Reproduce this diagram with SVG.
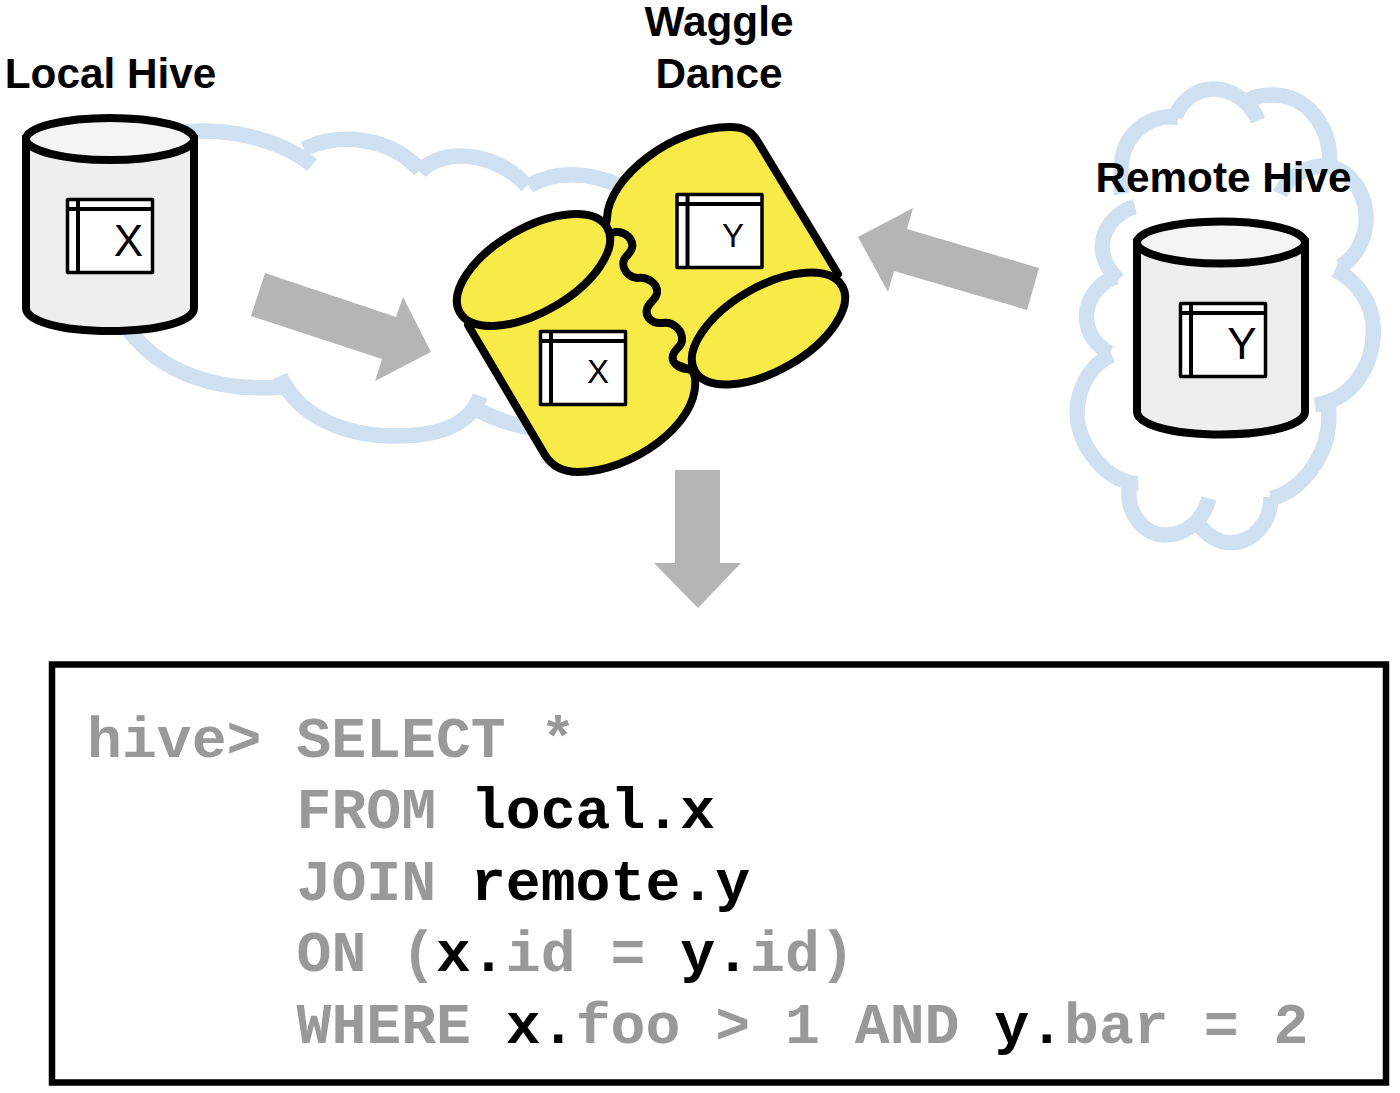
<svg xmlns="http://www.w3.org/2000/svg" width="1400" height="1093" viewBox="0 0 1400 1093">
<style>
.cloud{fill:none;stroke:#cfe0f0;stroke-width:15.500}
.rc{fill:none;stroke:#cfe0f0;stroke-width:46}
.arrow{fill:#b5b5b5}
.cyl{fill:#eeeeee;stroke:#000;stroke-width:8}
.cyltop{fill:#f4f4f4;stroke:#000;stroke-width:8}
.y{fill:#f9eb47;stroke:#000;stroke-width:8;stroke-linejoin:round}
.tb{fill:#fff;stroke:#000;stroke-width:3.500;stroke-linejoin:round}
.tl{stroke:#000;stroke-width:4}
.title{font-family:"Liberation Sans",Arial,sans-serif;font-weight:700;font-size:42.300px;fill:#000;text-anchor:middle}
.big{font-family:"Liberation Sans",Arial,sans-serif;font-size:44px;fill:#000;text-anchor:middle}
.small{font-family:"Liberation Sans",Arial,sans-serif;font-size:33px;fill:#000;text-anchor:middle}
.code{font-family:"Liberation Mono","Courier New",monospace;font-weight:700;font-size:58.150px;fill:#999;white-space:pre}
.k{fill:#000}
</style>
<defs>
<g id="table">
<rect class="tb" x="1.500" y="1.500" width="85" height="73"/>
<line class="tl" x1="12" y1="1.500" x2="12" y2="74.500"/>
<line class="tl" x1="1.500" y1="11" x2="86.500" y2="11"/>
</g>
<g id="cylinder">
<path class="cyl" d="M26,139V308C26,321 60,331 110,331C160,331 194,321 194,308V139Z"/>
<ellipse class="cyltop" cx="110" cy="139" rx="84" ry="21"/>
</g>
</defs>
<g id="local-cloud">
<path class="cloud" d="M185,132C235,127 285,143 312,165"/>
<path class="cloud" d="M304,149C340,132 390,137 420,170"/>
<path class="cloud" d="M420,172C440,148 495,150 527,186"/>
<path class="cloud" d="M529,186C555,170 590,172 620,186"/>
<path class="cloud" d="M125,325C160,375 220,392 282,387"/>
<path class="cloud" d="M280,376C300,420 350,436 396,436C440,436 470,425 480,396"/>
<path class="cloud" d="M474,407C490,418 510,424 530,428"/>
</g>
<g id="remote-cloud">
<g transform="translate(1050 70) scale(.33333)">
<path class="rc" d="M625,152C600,90 540,57 490,57C440,57 395,90 375,140"/>
<path class="rc" d="M385,142C300,130 225,190 215,275C212,310 210,340 215,372"/>
<path class="rc" d="M255,410C180,430 105,530 205,630"/>
<path class="rc" d="M200,620C105,650 65,780 178,850"/>
<path class="rc" d="M185,855C90,900 50,1030 110,1130C150,1200 210,1240 265,1240"/>
<path class="rc" d="M237,1255C230,1340 290,1395 345,1395C410,1395 460,1350 477,1285"/>
<path class="rc" d="M447,1365C475,1400 510,1418 540,1418C605,1418 665,1360 662,1280"/>
<path class="rc" d="M662,1285C760,1265 850,1140 835,1010"/>
<path class="rc" d="M795,1005C905,990 970,890 970,780C970,700 920,630 855,600"/>
<path class="rc" d="M690,372C720,310 790,280 840,290C920,310 960,400 945,480C935,530 905,570 870,590"/>
<path class="rc" d="M838,300C850,170 770,75 670,75C640,75 615,80 595,90"/>
</g>
</g>
<g id="connectors">
<polygon class="arrow" points="265,273 396,317 403,297 431,352 375,381 382,359 251,316"/>
<polygon class="arrow" points="1039,268 1027,310 894,271 888,292 858,237 913,208 907,229"/>
<polygon class="arrow" points="675,470 720,470 720,563 741,563 698,608 654,563 675,563"/>
</g>
<g id="local-hive">
<text class="title" x="110.500" y="88">Local Hive</text>
<use href="#cylinder"/>
<use href="#table" x="66" y="198"/>
<text class="big" x="128.500" y="256">X</text>
</g>
<g id="remote-hive">
<text class="title" x="1223.500" y="192">Remote Hive</text>
<use href="#cylinder" transform="translate(1111 103.500)"/>
<use href="#table" x="1179" y="302"/>
<text class="big" x="1242" y="359">Y</text>
</g>
<g id="waggle-dance">
<text class="title" x="719" y="36">Waggle</text>
<text class="title" x="719" y="88">Dance</text>
<path class="y" d="M607,218C608,178 672,127 730,127C745,127 752,132 758,142L838,274L768,328L688,369L640,350L600,260Z"/>
<path class="y" d="M468,325L545,455C553,468 565,472 578,472C630,472 700,425 695,378C694,372 692,370 688,369C678,369 671,362 673,355C675,349 681,347 682,341C683,330 673,321 662,323C652,324 645,317 647,309C649,302 656,300 657,293C658,284 648,276 637,278C628,277 621,268 624,260C626,255 631,253 632,248C634,240 626,231 615,232L534,270Z"/>
<ellipse class="y" cx="533.500" cy="270" rx="85" ry="42" transform="rotate(-30 533.500 270)"/>
<ellipse class="y" cx="768.500" cy="328.500" rx="85" ry="42" transform="rotate(-30 768.500 328.500)"/>
<use href="#table" x="675.500" y="193"/>
<text class="small" x="733" y="247">Y</text>
<use href="#table" x="539" y="330"/>
<text class="small" x="598" y="383">X</text>
</g>
<g id="query-box">
<rect x="52" y="664.500" width="1334" height="418" fill="#fff" stroke="#000" stroke-width="6.500"/>
<text class="code" x="87" y="756.500" xml:space="preserve">hive&gt; SELECT *</text>
<text class="code" x="296.500" y="827.500" xml:space="preserve">FROM <tspan class="k">local.x</tspan></text>
<text class="code" x="296.500" y="899.500" xml:space="preserve">JOIN <tspan class="k">remote.y</tspan></text>
<text class="code" x="296.500" y="970.500" xml:space="preserve">ON (<tspan class="k">x.</tspan>id = <tspan class="k">y.</tspan>id)</text>
<text class="code" x="296.500" y="1042.500" xml:space="preserve">WHERE <tspan class="k">x.</tspan>foo &gt; 1 AND <tspan class="k">y.</tspan>bar = 2</text>
</g>
</svg>
